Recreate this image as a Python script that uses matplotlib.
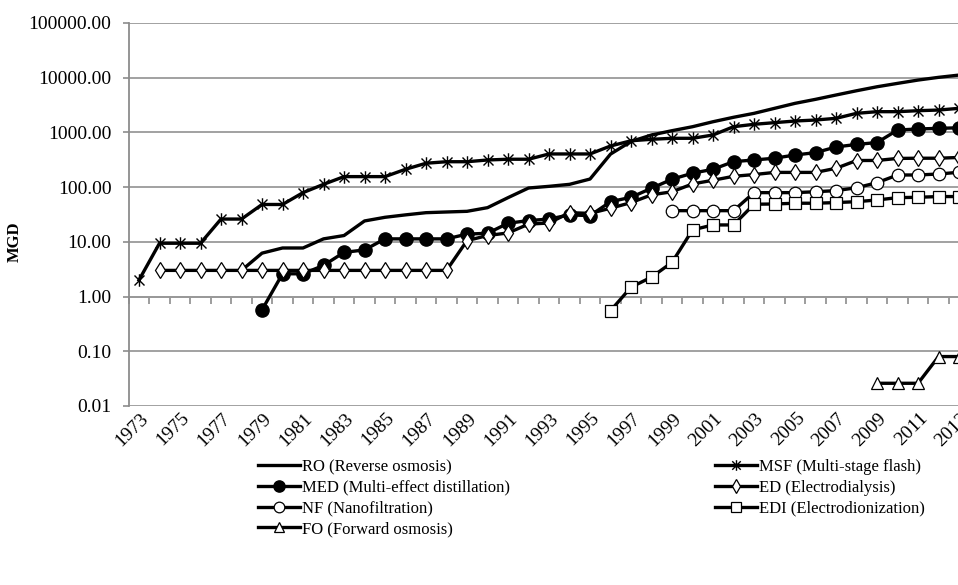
import numpy as np
import matplotlib
matplotlib.use("Agg")
import matplotlib.pyplot as plt
from matplotlib.path import Path
from matplotlib.transforms import ScaledTranslation

nan = np.nan

years = list(range(1973, 2014))

ro = [nan, nan, nan, nan, nan, 3.0, 6.2, 7.7, 7.7, 11.3,
      13.0, 24.0, 28.0, 31.0, 34.0, 35.0, 36.0, 42.0, 64.0, 96.0,
      103.0, 112.0, 140.0, 400.0, 680.0, 893.0, 1070.0, 1265.0, 1560.0, 1880.0,
      2220.0, 2740.0, 3380.0, 4000.0, 4800.0, 5740.0, 6790.0, 7830.0, 9000.0, 10090.0,
      11100.0]
msf = [2.0, 9.4, 9.4, 9.4, 26.0, 26.0, 48.0, 48.0, 79.0, 112.0,
       155.0, 155.0, 155.0, 211.0, 272.0, 290.0, 290.0, 312.0, 322.0, 322.0,
       402.0, 402.0, 402.0, 562.0, 700.0, 745.0, 777.0, 777.0, 893.0, 1265.0,
       1400.0, 1500.0, 1607.0, 1676.0, 1800.0, 2220.0, 2380.0, 2380.0, 2480.0, 2550.0,
       2740.0]
med = [nan, nan, nan, nan, nan, nan, 0.57, 2.6, 2.6, 3.7,
       6.4, 7.1, 11.3, 11.3, 11.3, 11.3, 13.8, 14.3, 21.8, 24.4,
       26.0, 31.0, 30.0, 54.0, 65.0, 95.0, 139.0, 179.0, 211.0, 291.0,
       312.0, 336.0, 385.0, 425.0, 540.0, 600.0, 650.0, 1100.0, 1150.0, 1180.0,
       1210.0]
ed = [nan, 3.0, 3.0, 3.0, 3.0, 3.0, 3.0, 3.0, 3.0, 3.0,
      3.0, 3.0, 3.0, 3.0, 3.0, 3.0, 10.5, 13.0, 14.5, 21.0,
      22.0, 34.0, 33.0, 41.0, 52.0, 72.0, 82.0, 114.0, 133.0, 157.0,
      169.0, 185.0, 185.0, 185.0, 220.0, 305.0, 306.0, 333.0, 336.0, 336.0,
      347.0]
nf = [nan] * 26 + [37.0, 37.0, 37.0, 37.0, 79.0, 79.0, 79.0, 82.0, 86.0, 97.0,
                   120.0, 166.0, 166.0, 173.0, 186.0]
edi = [nan] * 23 + [0.55, 1.48, 2.26, 4.2, 16.5, 20.3, 20.3, 48.5, 49.0, 50.6,
                    50.6, 52.0, 54.0, 58.0, 64.0, 65.0, 67.0, 67.0]
fo = [nan] * 36 + [0.026, 0.026, 0.026, 0.080, 0.080]

y_ticks = [0.01, 0.1, 1, 10, 100, 1000, 10000, 100000]

# Excel-style asterisk: a vertical bar crossed by an X
asterisk = Path(
    [(0, -1), (0, 1), (-0.8, -0.8), (0.8, 0.8), (-0.8, 0.8), (0.8, -0.8)],
    [Path.MOVETO, Path.LINETO, Path.MOVETO, Path.LINETO, Path.MOVETO, Path.LINETO],
)

plt.rcParams["font.family"] = ["Liberation Serif", "DejaVu Serif"]

fig = plt.figure(figsize=(9.58, 5.85), dpi=100)
ax = fig.add_axes([0.1344, 0.306, 0.8774, 0.655])

x = np.arange(len(years))
lw = 2.4
series = [
    ("RO (Reverse osmosis)", ro, dict(marker=None)),
    ("MSF (Multi-stage flash)", msf, dict(marker=asterisk, markersize=9, markeredgewidth=1.0,
                                          markeredgecolor="black")),
    ("MED (Multi-effect distillation)", med, dict(marker="o", markersize=9.5,
                                                  markerfacecolor="black", markeredgecolor="black")),
    ("ED (Electrodialysis)", ed, dict(marker="d", markersize=8, markerfacecolor="white",
                                      markeredgecolor="black", markeredgewidth=0.9)),
    ("NF (Nanofiltration)", nf, dict(marker="o", markersize=9, markerfacecolor="white",
                                     markeredgecolor="black", markeredgewidth=0.9)),
    ("EDI (Electrodionization)", edi, dict(marker="s", markersize=8.5, markerfacecolor="white",
                                           markeredgecolor="black", markeredgewidth=0.9)),
    ("FO (Forward osmosis)", fo, dict(marker="^", markersize=9, markerfacecolor="white",
                                      markeredgecolor="black", markeredgewidth=0.9)),
]

handles = {}
for name, vals, style in series:
    (h,) = ax.plot(x, vals, color="black", linewidth=lw, label=name,
                   solid_joinstyle="round", **style)
    handles[name] = h

ax.set_yscale("log")
ax.set_ylim(y_ticks[0], y_ticks[-1])
ax.set_xlim(-0.5, len(years) - 0.5)
ax.set_yticks(y_ticks)
ax.set_yticklabels([f"{v:.2f}" for v in y_ticks], fontsize=14)
ax.yaxis.set_minor_locator(matplotlib.ticker.NullLocator())
ax.tick_params(axis="y", length=4, color="#8c8c8c", width=1.2, pad=8.5)
ax.grid(axis="y", which="major", color="#9a9a9a", linewidth=1.3)
ax.set_axisbelow(True)

for side in ("top", "right", "bottom"):
    ax.spines[side].set_visible(False)
ax.spines["left"].set_color("#8c8c8c")
ax.spines["left"].set_linewidth(1.3)

# category labels, every other year, along the bottom
ax.set_xticks(x[::2])
ax.set_xticklabels([str(y) for y in years[::2]], fontsize=14, rotation=45,
                   rotation_mode="anchor", ha="right", va="center")
ax.tick_params(axis="x", length=0, pad=7)
offset = ScaledTranslation(7 / 100, 0, fig.dpi_scale_trans)
for lbl in ax.get_xticklabels():
    lbl.set_transform(lbl.get_transform() + offset)

# horizontal axis crossing at 1.0 with ticks between categories
lo, hi = np.log10(ax.get_ylim())
cross = (np.log10(1.0) - lo) / (hi - lo)
sec = ax.secondary_xaxis(cross)
sec.set_xticks(np.arange(-0.5, len(years) - 0.5 + 1e-9, 1.0))
sec.tick_params(axis="x", length=5, direction="out", color="#8c8c8c", width=1.2,
                labelbottom=False, labeltop=False)
sec.spines["bottom"].set_color("#8c8c8c")
sec.spines["bottom"].set_linewidth(1.3)
sec.spines["top"].set_visible(False)

ax.set_ylabel("MGD", fontsize=12, fontweight="bold")
ax.yaxis.set_label_coords(-0.126, 0.43)

order = ["RO (Reverse osmosis)", "MED (Multi-effect distillation)", "NF (Nanofiltration)",
         "FO (Forward osmosis)", "MSF (Multi-stage flash)", "ED (Electrodialysis)",
         "EDI (Electrodionization)"]
fig.legend([handles[n] for n in order], order, loc="upper left",
           bbox_to_anchor=(258 / 958, 1 - 459 / 585), ncol=2, frameon=False,
           fontsize=12, handlelength=2.5, handletextpad=0.15, columnspacing=12.3,
           labelspacing=0.28, borderpad=0, borderaxespad=0, markerscale=0.85)

fig.savefig("out.png", dpi=100)
